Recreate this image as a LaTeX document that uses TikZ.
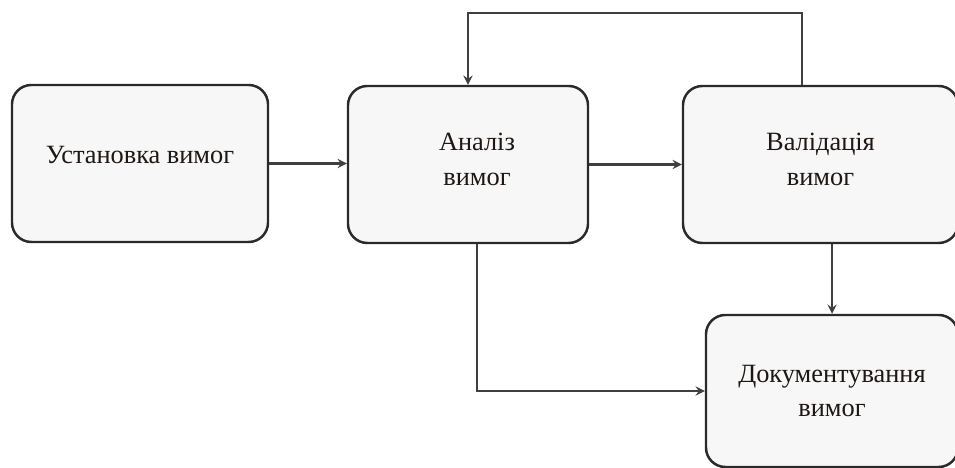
\documentclass[tikz,border=0pt]{standalone}
\usepackage{fontspec}
\setmainfont{Liberation Serif}
\usepackage{tikz}
\definecolor{frame}{HTML}{2A2A2A}
\definecolor{ink}{HTML}{1E1713}

\tikzset{
  box/.style={draw=frame,line width=1.4pt,rounded corners=11pt,fill=black!3,
    minimum width=#1,minimum height=3.14cm,inner sep=0pt},
  lbl/.style={text=ink,align=center,font=\fontsize{15}{19.5}\selectfont}
}

\begin{document}
\begin{tikzpicture}[>=stealth]
  \useasboundingbox (0,0) rectangle (19.1,9.36);
  % blocks
  \node[box=5.12cm] (ust) at (2.80,6.09) {};
  \node[box=4.80cm] (an) at (9.36,6.07) {};
  \node[box=5.50cm] (val) at (16.41,6.07) {};
  \node[box=5.04cm,minimum height=3.04cm] (doc) at (16.64,1.54) {};
  % block texts
  \node[lbl] (ust-t) at ([yshift=0.16cm]ust.center) {Установка вимог};
  \node[lbl] (an-t) at ([shift={(0.18,0.10)}]an.center) {Аналіз\\вимог};
  \node[lbl] (val-t) at ([yshift=0.10cm]val.center) {Валідація\\вимог};
  \node[lbl] (doc-t) at (doc.center) {Документування\\вимог};
  \coordinate (fb) at (12.5,9.10);
  % connectors
  \begin{scope}[draw=frame!90,line width=1.3pt]
    \draw[->] (ust.east) -- (ust.east -| an.west);
    \draw[->] (an.east) -- (an.east -| val.west);
    \draw[->] ([xshift=-0.37cm]val.north) |- (fb) -| (an.north);
    \draw[->] (val.south -| doc.north) -- (doc.north);
    \draw[->] ([xshift=0.18cm]an.south) |- (doc.west);
  \end{scope}
\end{tikzpicture}
\end{document}
